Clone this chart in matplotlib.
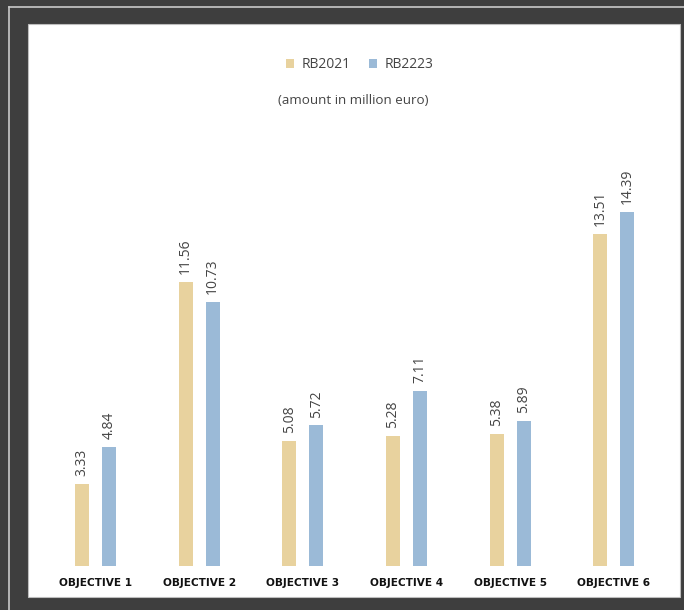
import matplotlib
matplotlib.use("Agg")
import matplotlib.pyplot as plt
import numpy as np
from matplotlib.patches import Rectangle
from matplotlib.lines import Line2D

categories = ["OBJECTIVE 1", "OBJECTIVE 2", "OBJECTIVE 3", "OBJECTIVE 4", "OBJECTIVE 5", "OBJECTIVE 6"]
rb2021 = [3.33, 11.56, 5.08, 5.28, 5.38, 13.51]
rb2223 = [4.84, 10.73, 5.72, 7.11, 5.89, 14.39]
series_names = ["RB2021", "RB2223"]
colors = ["#e8d29e", "#9bbad7"]

W, H = 684, 610
fig = plt.figure(figsize=(W / 100, H / 100), dpi=100, facecolor="#3e3e3e")

# white panel and light border lines
fig.patches.append(Rectangle((28 / W, 1 - 597 / H), (680 - 28) / W, (597 - 24) / H,
                             transform=fig.transFigure, facecolor="white",
                             edgecolor="#bdbdbd", linewidth=0.8, zorder=-10))
fig.lines.append(Line2D([9 / W, 1], [1 - 7 / H, 1 - 7 / H], transform=fig.transFigure,
                        color="#c9c9c9", linewidth=1.2, zorder=-10))
fig.lines.append(Line2D([9 / W, 9 / W], [0, 1 - 7 / H], transform=fig.transFigure,
                        color="#c9c9c9", linewidth=1.2, zorder=-10))

ax_left = 43.6 / W
ax_width = 622 / W
ax_bottom = (H - 566) / H
ax_height = 393.6 / H
ax = fig.add_axes([ax_left, ax_bottom, ax_width, ax_height])
ax.set_facecolor("none")
ax.set_zorder(5)

x = np.arange(len(categories))
bw = 0.135
off = 0.13
b1 = ax.bar(x - off, rb2021, width=bw, color=colors[0], label=series_names[0])
b2 = ax.bar(x + off, rb2223, width=bw, color=colors[1], label=series_names[1])

for bars, vals in ((b1, rb2021), (b2, rb2223)):
    for rect, v in zip(bars, vals):
        ax.annotate(f"{v:.2f}", (rect.get_x() + rect.get_width() / 2, rect.get_height()),
                    xytext=(0, 5.5), textcoords="offset points", rotation=90,
                    ha="center", va="bottom", fontsize=10, color="#444444",
                    family="Open Sans")

ax.set_xlim(-0.5, 5.5)
ax.set_ylim(0, 16)
ax.set_yticks([])
ax.set_xticks(x)
ax.set_xticklabels(categories, fontsize=7.6, fontweight="heavy", color="#111111",
                   family="DejaVu Sans")
ax.tick_params(axis="x", length=0, pad=8.5)
for s in ax.spines.values():
    s.set_visible(False)

fig.legend(handles=[b1, b2], labels=series_names, loc="center",
           bbox_to_anchor=(360 / W, 1 - 65 / H), ncol=2, frameon=False,
           handlelength=0.55, handleheight=0.55, handletextpad=0.6, columnspacing=1.3,
           prop={"family": "Open Sans", "size": 10}, labelcolor="#444444")

fig.text(353 / W, 1 - 100 / H, "(amount in million euro)", ha="center", va="center",
         fontsize=9.6, color="#444444", family="Open Sans")

fig.savefig("out.png", dpi=100, facecolor=fig.get_facecolor())
